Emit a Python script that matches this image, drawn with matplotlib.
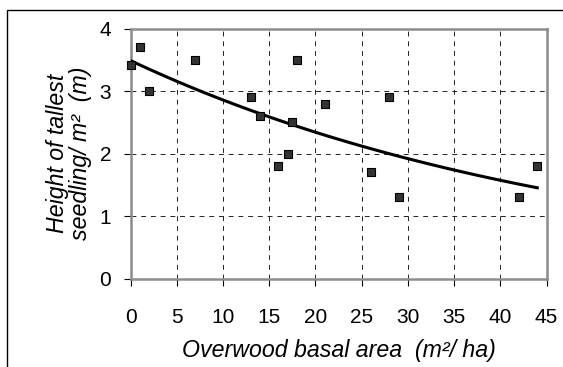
import numpy as np
import matplotlib
matplotlib.use("Agg")
import matplotlib.pyplot as plt
from matplotlib.patches import Rectangle

plt.rcParams['font.family'] = ['Liberation Sans', 'DejaVu Sans']

basal_area = [0, 1, 2, 7, 13, 14, 16, 17, 17.5, 18, 21, 26, 28, 29, 42, 44]
height = [3.42, 3.7, 3.0, 3.5, 2.9, 2.6, 1.8, 2.0, 2.5, 3.5, 2.8, 1.7, 2.9, 1.3, 1.3, 1.8]
x_ticks = [0, 5, 10, 15, 20, 25, 30, 35, 40, 45]
y_ticks = [0, 1, 2, 3, 4]

W, H = 563, 367
fig = plt.figure(figsize=(W/100, H/100), dpi=100)
L, R, T, B = 130.5, 546.5, 28.5, 278.5
ax = fig.add_axes([L/W, 1-B/H, (R-L)/W, (B-T)/H])

# exponential trendline fitted to the data
xa = np.array(basal_area, dtype=float)
ya = np.array(height, dtype=float)
b, a = np.polyfit(xa, np.log(ya), 1)
xt = np.linspace(xa.min(), xa.max(), 100)
yt = np.exp(a + b * xt)
ax.plot(xt, yt, color='black', lw=2.2, zorder=3)

ax.scatter(basal_area, height, marker='s', s=40, facecolor='#333333',
           edgecolor='black', linewidths=0.8, zorder=4, clip_on=False)

ax.set_xlim(0, 45)
ax.set_ylim(0, 4)
ax.set_xticks(x_ticks)
ax.set_yticks(y_ticks)
ax.grid(True, color='#222222', linestyle=(0, (5, 5)), linewidth=0.7)
ax.set_axisbelow(True)
for s in ax.spines.values():
    s.set_color('#8c8c8c')
    s.set_linewidth(1.8)
ax.tick_params(direction='out', length=5, width=0.8, color='black',
               labelsize=15, pad=16)
ax.tick_params(axis='y', pad=9)

ax.set_xlabel('Overwood basal area  (m²/ ha)', fontsize=16.7, style='italic',
              labelpad=9)
ax.set_ylabel('Height of tallest\nseedling/ m²  (m)', fontsize=16.7,
              style='italic', labelpad=5, linespacing=1.0)

fig.patches.append(Rectangle((7.5/W, -0.2), 1.2, 1.2 - 9.7/H,
                             transform=fig.transFigure, fill=False,
                             edgecolor='black', linewidth=1.0))

fig.savefig('out.png', dpi=100)
